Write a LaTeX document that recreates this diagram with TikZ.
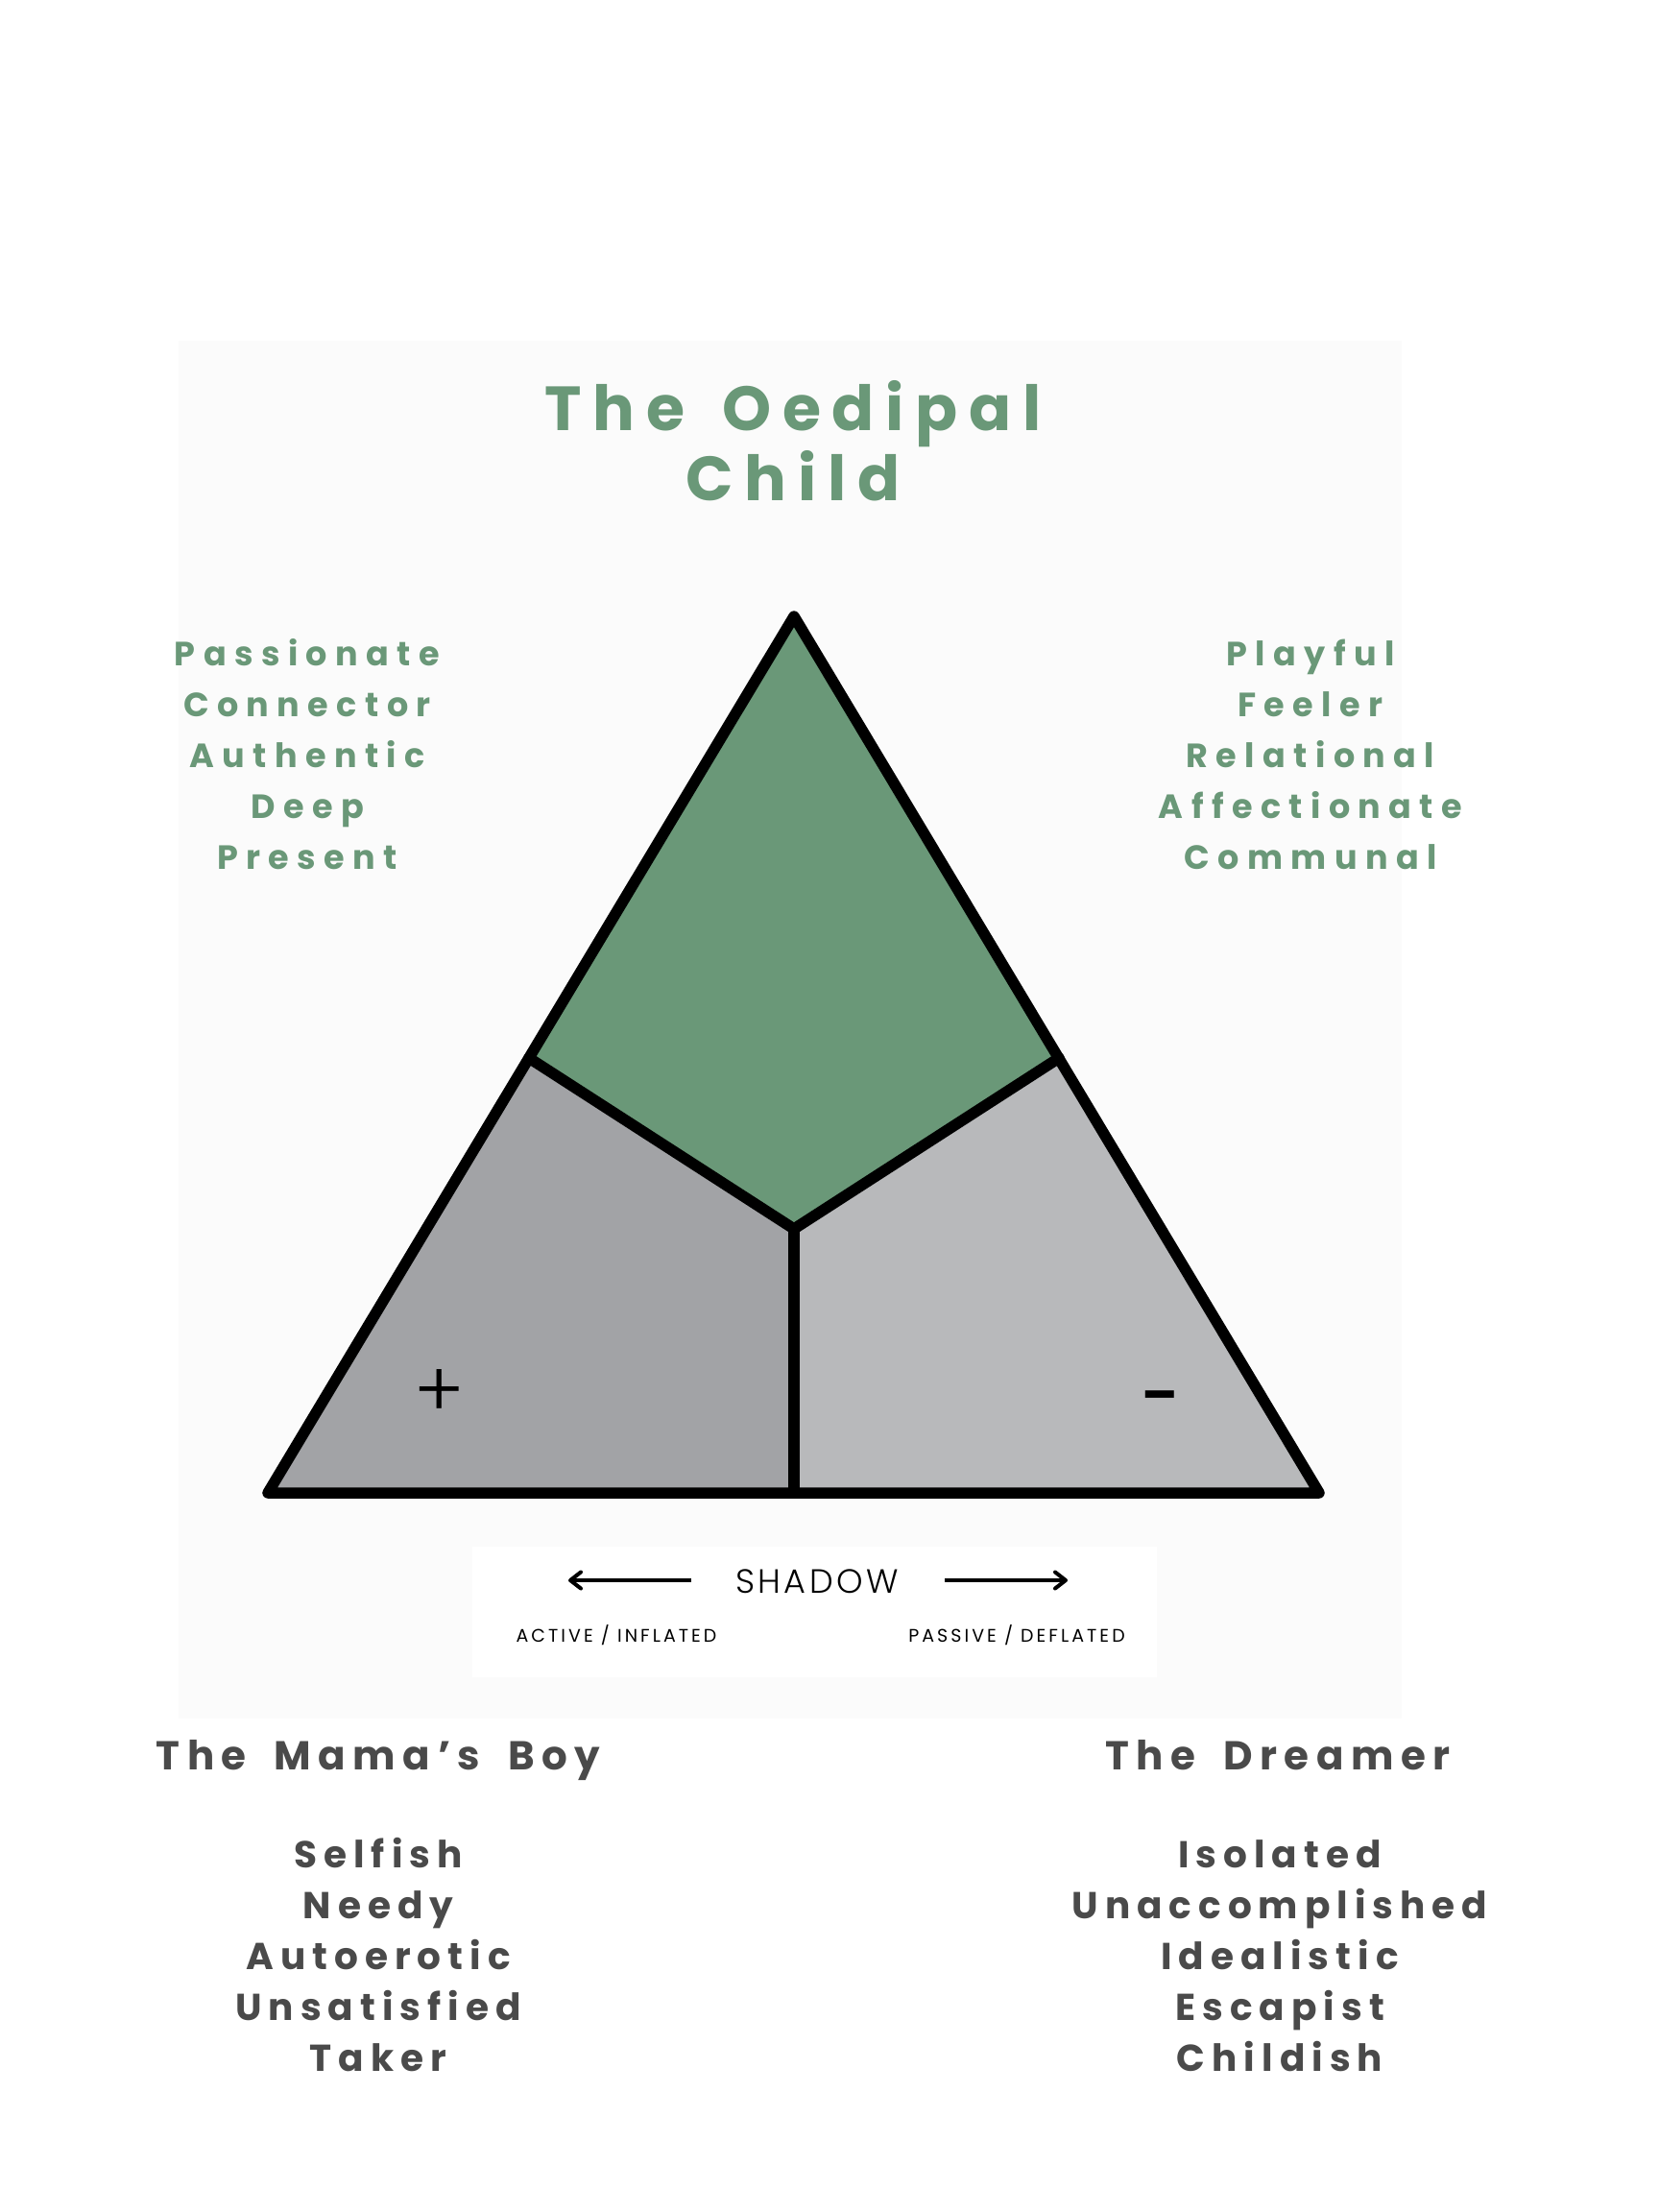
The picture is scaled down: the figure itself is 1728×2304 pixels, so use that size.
\documentclass[tikz,border=0pt]{standalone}
\usepackage{fontspec}
\usetikzlibrary{arrows.meta}
\setmainfont{Poppins}
\newfontfamily\titlef{Poppins}[LetterSpace=18]
\newfontfamily\greenf{Poppins}[LetterSpace=24]
\newfontfamily\darkf{Poppins}[LetterSpace=18]
\newfontfamily\itemf{Poppins}[LetterSpace=18]
\newfontfamily\shadowf{Poppins Light}[LetterSpace=10]
\newfontfamily\plusf{Poppins Light}
\newfontfamily\smallf{Poppins}[LetterSpace=16]
\definecolor{sage}{HTML}{6A9878}
\definecolor{grayL}{HTML}{A2A3A6}
\definecolor{grayR}{HTML}{B8B9BB}
\definecolor{ink}{HTML}{4A4A4A}
\definecolor{panel}{HTML}{FBFBFB}
\newcommand\tgap{\hspace{39pt}}
\newcommand\hgap{\hspace{29pt}}
\tikzset{
  titletext/.style={text=sage, inner sep=0, anchor=base, font=\titlef\bfseries\fontsize{65}{65}\selectfont},
  greentext/.style={text=sage, inner sep=0, anchor=base, font=\greenf\bfseries\fontsize{35}{35}\selectfont},
  headtext/.style={text=ink, inner sep=0, anchor=base, font=\darkf\bfseries\fontsize{42}{42}\selectfont},
  itemtext/.style={text=ink, inner sep=0, anchor=base, font=\itemf\bfseries\fontsize{39}{39}\selectfont},
  outline/.style={line width=11.5pt, line join=round, line cap=round, draw=black},
  shadowarrow/.style={line width=4pt, -{Straight Barb[length=11pt,width=17pt,line cap=round,line join=round]}}
}
\begin{document}
\begin{tikzpicture}[x=1pt,y=-1pt]
\fill[white] (0,0) rectangle (1728,2304);
\useasboundingbox (0,0) rectangle (1728,2304);
\fill[panel] (186,355) rectangle (1460,1790);
\fill[white] (492,1611) rectangle (1205,1747);

% triangle geometry
\coordinate (A) at (827,642);
\coordinate (BL) at (279,1555);
\coordinate (BR) at (1374,1555);
\coordinate (LJ) at (551,1102);
\coordinate (RJ) at (1103,1102);
\coordinate (C) at (827,1280);
\coordinate (BM) at (827,1555);

\fill[sage] (A) -- (RJ) -- (C) -- (LJ) -- cycle;
\fill[grayL] (LJ) -- (C) -- (BM) -- (BL) -- cycle;
\fill[grayR] (RJ) -- (BR) -- (BM) -- (C) -- cycle;
\draw[outline] (LJ) -- (C) -- (RJ);
\draw[outline] (C) -- (BM);
\draw[outline] (A) -- (BR) -- (BL) -- cycle;

\node[inner sep=0, anchor=center, font=\plusf\fontsize{80}{80}\selectfont] (plus) at (458,1451) {+};
\node[inner sep=0, anchor=center, font=\bfseries\fontsize{54}{54}\selectfont] (minus) at (1208,1460) {–};

% title
\node[titletext] (t1) at (826,448) {The\tgap Oedipal};
\node[titletext] (t2) at (826,521) {Child};

% green lists
\foreach \w [count=\i] in {Passionate,Connector,Authentic,Deep,Present}
  \node[greentext] (gl\i) at (320,{693+53*(\i-1)}) {\w};
\foreach \w [count=\i] in {Playful,Feeler,Relational,Affectionate,Communal}
  \node[greentext] (gr\i) at (1365,{693+53*(\i-1)}) {\w};

% shadow legend
\node[inner sep=0, anchor=base, font=\shadowf\fontsize{35}{35}\selectfont] (shadow) at (851,1659) {SHADOW};
\coordinate (la) at (720,1646);
\coordinate (lb) at (592,1646);
\coordinate (ra) at (984,1646);
\coordinate (rb) at (1112,1646);
\draw[shadowarrow] (la) -- (lb);
\draw[shadowarrow] (ra) -- (rb);
\node[inner sep=0, anchor=base, font=\smallf\fontsize{19}{19}\selectfont] (act) at (642,1710) {ACTIVE / INFLATED};
\node[inner sep=0, anchor=base, font=\smallf\fontsize{19}{19}\selectfont] (pas) at (1059,1710) {PASSIVE / DEFLATED};

% bottom lists
\node[headtext] (hl) at (394,1843) {The\hgap Mama’s\hgap Boy};
\node[headtext] (hr) at (1331,1843) {The\hgap Dreamer};
\foreach \w [count=\i] in {Selfish,Needy,Autoerotic,Unsatisfied,Taker}
  \node[itemtext] (dl\i) at (394,{1945+53*(\i-1)}) {\w};
\foreach \w [count=\i] in {Isolated,Unaccomplished,Idealistic,Escapist,Childish}
  \node[itemtext] (dr\i) at (1333,{1945+53*(\i-1)}) {\w};
\end{tikzpicture}
\end{document}
